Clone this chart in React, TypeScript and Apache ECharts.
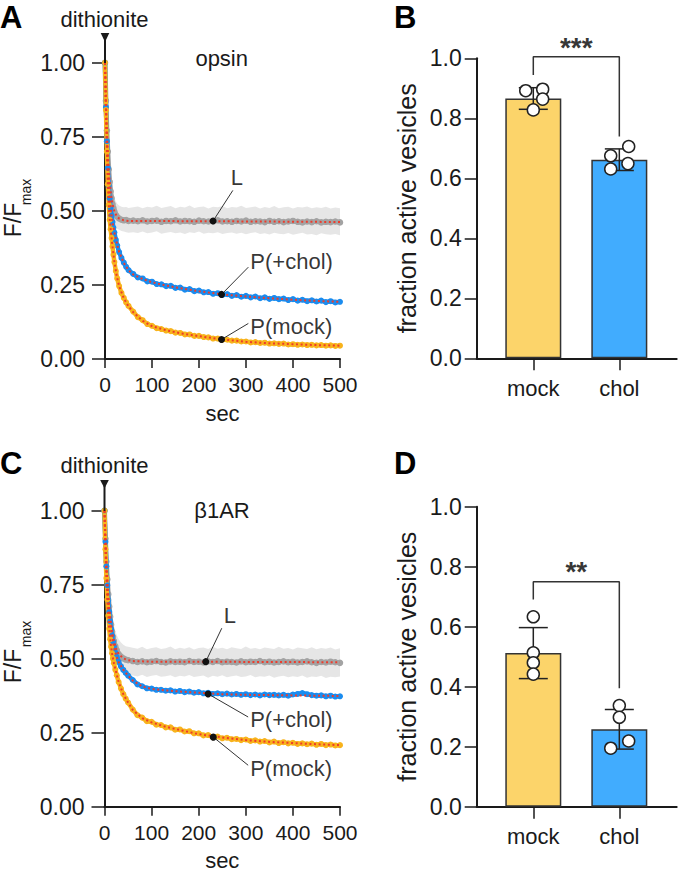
import React, { useEffect, useRef } from "react";
import * as echarts from "echarts";

const FONT = "'Liberation Sans', Arial, Helvetica, sans-serif";

// ---------- time base (sec) ----------
const T = [0, 2, 4, 6, 8, 10, 12, 14, 16, 18, 20, 23, 26, 30, 35, 40, 45, 50,
  60, 70, 80, 90, 100, 110, 120, 130, 140, 150, 160, 170, 180, 190, 200, 210, 220, 230, 240, 250,
  260, 270, 280, 290, 300, 310, 320, 330, 340, 350, 360, 370, 380, 390, 400, 410, 420, 430, 440,
  450, 460, 470, 480, 490, 500];
const TF = [0, 2, 4, 6, 8, 10, 13, 16, 20, 25, 30, 40, 50, 60, 80, 100, 130, 160, 200, 250, 300, 350, 400, 450, 500];

// ---------- panel A (opsin) ----------
const A_L = [1.000, 0.872, 0.771, 0.700, 0.640, 0.598, 0.566, 0.543, 0.523, 0.509, 0.498, 0.487, 0.480, 0.474, 0.470, 0.468, 0.469, 0.466,
  0.467, 0.465, 0.468, 0.464, 0.466, 0.467, 0.463, 0.466, 0.465, 0.468, 0.464, 0.466, 0.465, 0.463, 0.467, 0.465, 0.464, 0.466, 0.468, 0.464,
  0.465, 0.463, 0.466, 0.464, 0.467, 0.463, 0.465, 0.464, 0.462, 0.466, 0.463, 0.465, 0.462, 0.464, 0.466, 0.463, 0.461, 0.464, 0.462, 0.465,
  0.461, 0.463, 0.462, 0.464, 0.461];
const A_L_LO = [1.000, 0.830, 0.720, 0.645, 0.585, 0.545, 0.515, 0.495, 0.478, 0.465, 0.455, 0.447, 0.440, 0.436, 0.432, 0.430, 0.428, 0.426,
  0.428, 0.425, 0.430, 0.424, 0.427, 0.431, 0.423, 0.426, 0.429, 0.424, 0.427, 0.422, 0.428, 0.425, 0.430, 0.423, 0.426, 0.424, 0.428, 0.422,
  0.425, 0.427, 0.423, 0.426, 0.421, 0.425, 0.428, 0.422, 0.424, 0.420, 0.426, 0.423, 0.421, 0.425, 0.419, 0.423, 0.426, 0.420, 0.422, 0.418,
  0.424, 0.421, 0.419, 0.422, 0.418];
const A_L_HI = [1.000, 0.905, 0.820, 0.750, 0.695, 0.650, 0.615, 0.590, 0.570, 0.555, 0.543, 0.532, 0.524, 0.518, 0.514, 0.512, 0.513, 0.510,
  0.512, 0.515, 0.509, 0.514, 0.511, 0.517, 0.510, 0.513, 0.516, 0.509, 0.514, 0.511, 0.518, 0.510, 0.513, 0.515, 0.508, 0.514, 0.512, 0.516,
  0.509, 0.513, 0.511, 0.517, 0.510, 0.512, 0.515, 0.508, 0.513, 0.510, 0.516, 0.509, 0.512, 0.514, 0.508, 0.513, 0.511, 0.515, 0.509, 0.512,
  0.510, 0.514, 0.508, 0.511, 0.509];
const A_CHOL = [1.000, 0.850, 0.735, 0.645, 0.585, 0.542, 0.510, 0.484, 0.462, 0.443, 0.427, 0.402, 0.383, 0.361, 0.341, 0.325, 0.311, 0.300,
  0.287, 0.275, 0.272, 0.262, 0.261, 0.253, 0.252, 0.246, 0.247, 0.240, 0.241, 0.234, 0.236, 0.229, 0.231, 0.225, 0.226, 0.220, 0.222, 0.216,
  0.219, 0.213, 0.216, 0.210, 0.213, 0.208, 0.211, 0.205, 0.208, 0.203, 0.206, 0.202, 0.204, 0.199, 0.202, 0.197, 0.200, 0.195, 0.198, 0.194,
  0.197, 0.192, 0.195, 0.191, 0.193];
const A_MOCK = [1.000, 0.840, 0.700, 0.590, 0.520, 0.470, 0.438, 0.408, 0.380, 0.352, 0.327, 0.297, 0.272, 0.246, 0.223, 0.206, 0.191, 0.179,
  0.160, 0.141, 0.131, 0.118, 0.112, 0.104, 0.101, 0.096, 0.094, 0.089, 0.088, 0.083, 0.083, 0.078, 0.078, 0.074, 0.073, 0.069, 0.069, 0.065,
  0.065, 0.062, 0.062, 0.059, 0.059, 0.056, 0.057, 0.054, 0.055, 0.052, 0.053, 0.051, 0.052, 0.049, 0.050, 0.048, 0.049, 0.047, 0.048, 0.046,
  0.047, 0.045, 0.046, 0.044, 0.045];
const A_FIT_L = [1.0, 0.872, 0.772, 0.700, 0.642, 0.598, 0.553, 0.523, 0.498, 0.482, 0.474, 0.468, 0.466, 0.466, 0.466, 0.466, 0.466, 0.465, 0.465, 0.465, 0.464, 0.464, 0.463, 0.463, 0.462];
const A_FIT_CHOL = [1.0, 0.850, 0.735, 0.648, 0.588, 0.543, 0.497, 0.462, 0.427, 0.392, 0.362, 0.324, 0.300, 0.285, 0.270, 0.259, 0.248, 0.239, 0.229, 0.218, 0.211, 0.205, 0.200, 0.196, 0.193];
const A_FIT_MOCK = [1.0, 0.838, 0.700, 0.592, 0.520, 0.472, 0.423, 0.380, 0.327, 0.280, 0.246, 0.205, 0.178, 0.158, 0.129, 0.111, 0.097, 0.087, 0.077, 0.066, 0.058, 0.053, 0.050, 0.047, 0.045];
const A_ANN_DOT = [[230, 0.466], [248, 0.218], [248, 0.066]];
const A_ANN_END = [[272, 0.569], [305, 0.31], [305, 0.12]];

// ---------- panel C (beta1AR) ----------
const C_L = [1.000, 0.905, 0.828, 0.768, 0.718, 0.676, 0.642, 0.615, 0.592, 0.574, 0.560, 0.542, 0.529, 0.516, 0.507, 0.501, 0.497, 0.495,
  0.492, 0.489, 0.491, 0.488, 0.490, 0.492, 0.489, 0.487, 0.491, 0.489, 0.490, 0.488, 0.492, 0.489, 0.490, 0.487, 0.491, 0.489, 0.492, 0.488,
  0.490, 0.489, 0.487, 0.491, 0.488, 0.490, 0.489, 0.492, 0.488, 0.490, 0.487, 0.489, 0.491, 0.488, 0.490, 0.487, 0.489, 0.491, 0.488, 0.486,
  0.489, 0.487, 0.490, 0.488, 0.486];
const C_L_LO = [1.000, 0.870, 0.785, 0.720, 0.668, 0.625, 0.590, 0.562, 0.540, 0.522, 0.508, 0.492, 0.479, 0.466, 0.456, 0.450, 0.446, 0.444,
  0.443, 0.440, 0.446, 0.438, 0.442, 0.445, 0.439, 0.441, 0.444, 0.437, 0.442, 0.440, 0.445, 0.438, 0.441, 0.443, 0.436, 0.442, 0.439, 0.444,
  0.437, 0.441, 0.443, 0.438, 0.440, 0.445, 0.437, 0.441, 0.439, 0.443, 0.436, 0.440, 0.442, 0.437, 0.441, 0.438, 0.443, 0.436, 0.440, 0.438,
  0.442, 0.435, 0.439, 0.437, 0.440];
const C_L_HI = [1.000, 0.935, 0.870, 0.815, 0.768, 0.728, 0.695, 0.668, 0.645, 0.627, 0.612, 0.594, 0.580, 0.566, 0.555, 0.547, 0.542, 0.540,
  0.537, 0.534, 0.540, 0.532, 0.536, 0.539, 0.533, 0.535, 0.541, 0.532, 0.537, 0.534, 0.539, 0.531, 0.536, 0.538, 0.533, 0.540, 0.534, 0.537,
  0.532, 0.539, 0.535, 0.533, 0.541, 0.534, 0.536, 0.532, 0.538, 0.535, 0.533, 0.540, 0.534, 0.536, 0.531, 0.538, 0.535, 0.533, 0.539, 0.532,
  0.536, 0.534, 0.538, 0.531, 0.535];
const C_CHOL = [1.000, 0.895, 0.812, 0.748, 0.698, 0.658, 0.626, 0.600, 0.578, 0.558, 0.541, 0.521, 0.505, 0.489, 0.474, 0.462, 0.452, 0.443,
  0.428, 0.413, 0.407, 0.400, 0.399, 0.395, 0.395, 0.392, 0.393, 0.389, 0.391, 0.387, 0.389, 0.385, 0.387, 0.383, 0.385, 0.381, 0.383, 0.380,
  0.382, 0.379, 0.381, 0.378, 0.380, 0.377, 0.379, 0.376, 0.379, 0.377, 0.378, 0.376, 0.378, 0.375, 0.379, 0.381, 0.384, 0.380, 0.377, 0.375,
  0.376, 0.373, 0.375, 0.372, 0.373];
const C_MOCK = [1.000, 0.870, 0.772, 0.700, 0.645, 0.601, 0.566, 0.540, 0.518, 0.500, 0.485, 0.463, 0.444, 0.421, 0.399, 0.380, 0.365, 0.352,
  0.328, 0.309, 0.301, 0.289, 0.287, 0.277, 0.276, 0.268, 0.268, 0.260, 0.261, 0.254, 0.255, 0.248, 0.248, 0.241, 0.242, 0.235, 0.237, 0.231,
  0.233, 0.228, 0.229, 0.225, 0.227, 0.222, 0.224, 0.220, 0.222, 0.217, 0.220, 0.215, 0.218, 0.214, 0.216, 0.212, 0.214, 0.211, 0.213, 0.209,
  0.212, 0.208, 0.210, 0.207, 0.208];
const C_FIT_L = [1.0, 0.905, 0.828, 0.768, 0.718, 0.676, 0.628, 0.592, 0.560, 0.533, 0.516, 0.501, 0.495, 0.492, 0.491, 0.490, 0.490, 0.490, 0.490, 0.490, 0.489, 0.489, 0.489, 0.488, 0.488];
const C_FIT_CHOL = [1.0, 0.895, 0.812, 0.748, 0.698, 0.658, 0.612, 0.578, 0.541, 0.510, 0.489, 0.462, 0.443, 0.426, 0.406, 0.398, 0.393, 0.389, 0.385, 0.380, 0.378, 0.377, 0.376, 0.375, 0.374];
const C_FIT_MOCK = [1.0, 0.870, 0.772, 0.700, 0.645, 0.601, 0.553, 0.518, 0.485, 0.453, 0.421, 0.380, 0.352, 0.327, 0.299, 0.285, 0.270, 0.259, 0.245, 0.234, 0.225, 0.219, 0.215, 0.211, 0.208];
const C_ANN_DOT = [[215, 0.49], [220, 0.381], [231, 0.235]];
const C_ANN_END = [[249, 0.603], [305, 0.303], [305, 0.14]];

const ANN_LABELS = ["L", "P(+chol)", "P(mock)"];

// ---------- bar panels ----------
const CATS = ["mock", "chol"];
const B_MEAN = [0.866, 0.662];
const B_SD = [0.036, 0.036];
const B_PTS_MOCK = [0.892, 0.897, 0.864, 0.828];
const B_PTS_CHOL = [0.675, 0.706, 0.649, 0.631];
const B_JIT_MOCK = [-0.088, 0.109, 0.109, 0];
const B_JIT_CHOL = [-0.1, 0.109, 0.1, -0.1];
const D_MEAN = [0.512, 0.258];
const D_SD = [0.085, 0.066];
const D_PTS_MOCK = [0.633, 0.513, 0.48, 0.442];
const D_PTS_CHOL = [0.337, 0.298, 0.219, 0.195];
const D_JIT_MOCK = [0, 0, 0, 0];
const D_JIT_CHOL = [0, 0, 0.109, -0.1];
const B_BRACKET = [[1, 0.944], [1, 1.005], [2, 1.005], [2, 0.739]];
const D_BRACKET = [[1, 0.691], [1, 0.75], [2, 0.75], [2, 0.395]];
const B_SIG = "***";
const D_SIG = "**";

// ---------- colours ----------
const C_GRAY = "#a3a3a3";
const C_BAND = "#e6e6e6";
const C_BLUE = "#1a8cef";
const C_ORANGE = "#f8b31c";
const C_FIT = "#ee3b2b";
const C_BAR_Y = "#fcd46a";
const C_BAR_B = "#41acfe";
const INK = "#1a1a1a";

const pairs = (xs: number[], ys: number[]) =>
  xs.map((x, i) => [x, ys[i]]).filter((p) => p[1] !== undefined);

function axisCommon() {
  return {
    axisLine: { show: true, onZero: false, lineStyle: { color: INK, width: 2 } },
    splitLine: { show: false },
  };
}

function curveAxes(gi: number) {
  return {
    x: {
      type: "value", gridIndex: gi, min: 0, max: 500, interval: 100,
      ...axisCommon(),
      axisTick: { show: true, length: 9, lineStyle: { color: INK, width: 1.5 } },
      axisLabel: { fontSize: 21, color: INK, margin: 15, fontFamily: FONT },
      name: "sec", nameLocation: "middle", nameGap: 43,
      nameTextStyle: { fontSize: 22, color: INK, fontFamily: FONT },
    },
    y: {
      type: "value", gridIndex: gi, min: 0, max: 1, interval: 0.25,
      ...axisCommon(),
      axisTick: { show: true, length: 13, lineStyle: { color: INK, width: 1.5 } },
      axisLabel: { fontSize: 23, color: INK, margin: 20, fontFamily: FONT, formatter: (v: number) => v.toFixed(2) },
    },
  };
}

function barAxes(gi: number) {
  return {
    x: {
      type: "value", gridIndex: gi, min: 0.342, max: 2.667,
      ...axisCommon(),
      axisTick: { show: true, length: 12, customValues: [1, 2], lineStyle: { color: INK, width: 1.5 } },
      axisLabel: {
        customValues: [1, 2], fontSize: 22, color: INK, margin: 19, fontFamily: FONT,
        formatter: (v: number) => CATS[Math.round(v) - 1] || "",
      },
    },
    y: {
      type: "value", gridIndex: gi, min: 0, max: 1, interval: 0.2,
      ...axisCommon(),
      axisTick: { show: true, length: 12, lineStyle: { color: INK, width: 1.5 } },
      axisLabel: { fontSize: 23, color: INK, margin: 15, fontFamily: FONT, formatter: (v: number) => v.toFixed(1) },
      name: "fraction active vesicles", nameLocation: "middle", nameRotate: 90, nameGap: 57,
      nameTextStyle: { fontSize: 25, color: INK, fontFamily: FONT },
    },
  };
}

function curveSeries(gi: number, d: any) {
  const s: any[] = [];
  const ax = { xAxisIndex: gi, yAxisIndex: gi };
  s.push({
    type: "custom", ...ax, coordinateSystem: "cartesian2d", silent: true, z: 1,
    data: T.map((t, i) => [t, d.lo[i], d.hi[i]]),
    encode: { x: 0, y: [1, 2] },
    renderItem: (params: any, api: any) => {
      if (params.dataIndex !== 0) return null;
      const up = T.map((t, i) => api.coord([t, d.hi[i]]));
      const dn = T.map((t, i) => api.coord([t, d.lo[i]])).reverse();
      return { type: "polygon", shape: { points: up.concat(dn) }, style: { fill: C_BAND } };
    },
  });
  const dataLine = (vals: number[], color: string, z: number, w: number) => ({
    type: "line", ...ax, data: pairs(T, vals), z, silent: true,
    symbol: "circle", symbolSize: w + 1.5, showSymbol: true,
    lineStyle: { color, width: w }, itemStyle: { color },
  });
  s.push(dataLine(d.L, C_GRAY, 2, 5));
  s.push(dataLine(d.chol, C_BLUE, 3, 4.5));
  s.push(dataLine(d.mock, C_ORANGE, 3, 4.5));
  [d.fitL, d.fitChol, d.fitMock].forEach((f: number[]) => {
    s.push({
      type: "line", ...ax, data: pairs(TF, f), symbol: "none", z: 4, silent: true,
      lineStyle: { color: C_FIT, width: 2, type: [2, 2.6] },
    });
  });
  d.dots.forEach((dot: number[], i: number) => {
    const end = d.ends[i];
    s.push({
      type: "line", ...ax, z: 5, silent: true,
      data: [
        { value: dot, symbol: "circle", symbolSize: 7 },
        { value: end, symbol: "none" },
      ],
      lineStyle: { color: "#333", width: 1 }, itemStyle: { color: "#111" },
    });
    s.push({
      type: "scatter", ...ax, z: 5, silent: true, symbolSize: 0, clip: false,
      itemStyle: { color: "transparent" },
      data: [{ value: end, label: { show: true, formatter: ANN_LABELS[i], ...d.labelPos[i] } }],
      label: { fontSize: 22, color: "#000", fontFamily: FONT },
    });
  });
  return s;
}

function barSeries(gi: number, d: any) {
  const s: any[] = [];
  const ax = { xAxisIndex: gi, yAxisIndex: gi };
  s.push({
    type: "bar", ...ax, barWidth: 56, z: 2, silent: true,
    itemStyle: { borderColor: "#333", borderWidth: 1.5 },
    data: d.mean.map((m: number, i: number) => ({
      value: [i + 1, m], itemStyle: { color: i === 0 ? C_BAR_Y : C_BAR_B },
    })),
  });
  s.push({
    type: "custom", ...ax, z: 3, silent: true,
    data: d.mean.map((m: number, i: number) => [i + 1, m, d.sd[i]]),
    encode: { x: 0, y: 1 },
    renderItem: (params: any, api: any) => {
      const x = api.value(0), m = api.value(1), sd = api.value(2);
      const top = api.coord([x, m + sd]);
      const bot = api.coord([x, m - sd]);
      const hw = 14.5;
      const st = { stroke: "#222", lineWidth: 1.5 };
      return {
        type: "group", children: [
          { type: "line", shape: { x1: top[0], y1: top[1], x2: bot[0], y2: bot[1] }, style: st },
          { type: "line", shape: { x1: top[0] - hw, y1: top[1], x2: top[0] + hw, y2: top[1] }, style: st },
          { type: "line", shape: { x1: bot[0] - hw, y1: bot[1], x2: bot[0] + hw, y2: bot[1] }, style: st },
        ],
      };
    },
  });
  const pts: number[][] = [];
  d.ptsMock.forEach((v: number, i: number) => pts.push([1 + d.jitMock[i], v]));
  d.ptsChol.forEach((v: number, i: number) => pts.push([2 + d.jitChol[i], v]));
  s.push({
    type: "scatter", ...ax, z: 4, silent: true, symbol: "circle", symbolSize: 12,
    itemStyle: { color: "#fff", borderColor: "#222", borderWidth: 1.5, opacity: 1 },
    data: pts,
  });
  s.push({
    type: "line", ...ax, z: 3, silent: true, clip: false, symbol: "none",
    lineStyle: { color: "#333", width: 1.5 }, data: d.bracket,
  });
  s.push({
    type: "scatter", ...ax, z: 5, silent: true, symbolSize: 0, clip: false,
    itemStyle: { color: "transparent" },
    data: [{
      value: [1.5, d.sigY],
      label: { show: true, formatter: d.sig, position: "inside", fontSize: 28, fontWeight: "bold", color: "#000", fontFamily: FONT },
    }],
  });
  return s;
}

export default function App() {
  const ref = useRef<HTMLDivElement>(null);
  useEffect(() => {
    if (!ref.current) return;
    const chart = echarts.init(ref.current, null, { renderer: "svg" });
    const GA = { left: 105, top: 62.7, width: 235, height: 296.3 };
    const GB = { left: 476.7, top: 58.3, width: 200, height: 300 };
    const GC = { left: 104.5, top: 510.7, width: 235.5, height: 296 };
    const GD = { left: 476.7, top: 506.7, width: 200, height: 300 };
    const aA = curveAxes(0), aB = barAxes(1), aC = curveAxes(2), aD = barAxes(3);

    const series = [
      ...curveSeries(0, {
        L: A_L, lo: A_L_LO, hi: A_L_HI, chol: A_CHOL, mock: A_MOCK,
        fitL: A_FIT_L, fitChol: A_FIT_CHOL, fitMock: A_FIT_MOCK,
        dots: A_ANN_DOT, ends: A_ANN_END,
        labelPos: [
          { position: "top", distance: 2, offset: [4, 0] },
          { position: "right", distance: 2, offset: [0, -6] },
          { position: "right", distance: 2, offset: [0, 3] },
        ],
      }),
      ...barSeries(1, {
        mean: B_MEAN, sd: B_SD, ptsMock: B_PTS_MOCK, ptsChol: B_PTS_CHOL,
        jitMock: B_JIT_MOCK, jitChol: B_JIT_CHOL, bracket: B_BRACKET, sig: B_SIG, sigY: 1.035,
      }),
      ...curveSeries(2, {
        L: C_L, lo: C_L_LO, hi: C_L_HI, chol: C_CHOL, mock: C_MOCK,
        fitL: C_FIT_L, fitChol: C_FIT_CHOL, fitMock: C_FIT_MOCK,
        dots: C_ANN_DOT, ends: C_ANN_END,
        labelPos: [
          { position: "top", distance: 2, offset: [8, 0] },
          { position: "right", distance: 2, offset: [0, 2] },
          { position: "right", distance: 2, offset: [0, 3] },
        ],
      }),
      ...barSeries(3, {
        mean: D_MEAN, sd: D_SD, ptsMock: D_PTS_MOCK, ptsChol: D_PTS_CHOL,
        jitMock: D_JIT_MOCK, jitChol: D_JIT_CHOL, bracket: D_BRACKET, sig: D_SIG, sigY: 0.785,
      }),
    ];

    const txt = (text: string, x: number, y: number, size: number, extra: any = {}) => ({
      type: "text", x, y, z: 100, silent: true,
      style: { text, fontSize: size, fontFamily: FONT, fill: INK, align: "center", verticalAlign: "middle", ...(extra.style || {}) },
      ...(extra.el || {}),
    });
    const ROT = { el: { rotation: Math.PI / 2 } };
    const BOLD = { style: { align: "left", fontWeight: "bold", fill: "#000" } };

    const graphic = [
      txt("A", 0, 17, 31, BOLD),
      txt("B", 394, 17, 31, BOLD),
      txt("C", 0, 463, 31, BOLD),
      txt("D", 394, 463, 31, BOLD),
      txt("dithionite", 104.5, 19, 22),
      txt("dithionite", 104.5, 465.5, 22),
      txt("opsin", 221.7, 58.5, 22),
      txt("β1AR", 222, 510.5, 22),
      txt("F/F", 12.5, 220, 23, ROT),
      txt("max", 26, 192, 14, ROT),
      txt("F/F", 12.5, 666, 23, ROT),
      txt("max", 26, 634, 14, ROT),
      { type: "polygon", silent: true, z: 100, shape: { points: [[100.7, 33], [109.3, 33], [105, 42]] }, style: { fill: INK } },
      { type: "line", silent: true, z: 100, shape: { x1: 105, y1: 40, x2: 105, y2: 63 }, style: { stroke: INK, lineWidth: 2 } },
      { type: "polygon", silent: true, z: 100, shape: { points: [[100.2, 480], [108.8, 480], [104.5, 488.5]] }, style: { fill: INK } },
      { type: "line", silent: true, z: 100, shape: { x1: 104.5, y1: 486, x2: 104.5, y2: 511 }, style: { stroke: INK, lineWidth: 2 } },
    ];

    chart.setOption({
      animation: false,
      textStyle: { fontFamily: FONT },
      grid: [GA, GB, GC, GD],
      xAxis: [aA.x, aB.x, aC.x, aD.x],
      yAxis: [aA.y, aB.y, aC.y, aD.y],
      series,
      graphic,
    });
    return () => chart.dispose();
  }, []);
  return <div ref={ref} style={{ position: "absolute", left: 0, top: 0, width: 680, height: 875, background: "#fff" }} />;
}
